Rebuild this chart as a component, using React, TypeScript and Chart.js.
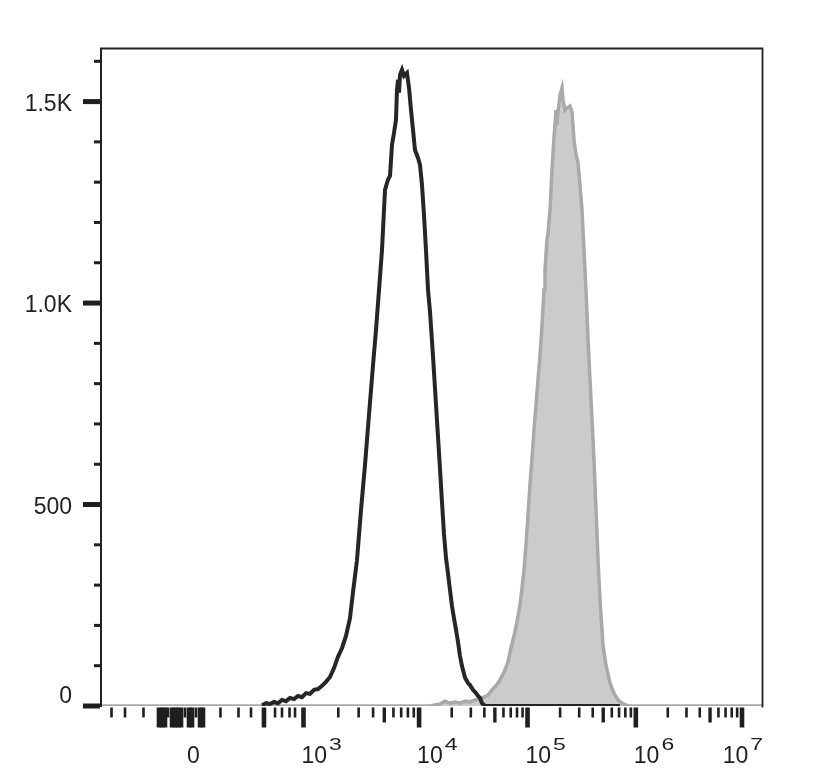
import React, { useEffect, useRef } from "react";
import { Chart, registerables } from "chart.js";

Chart.register(...registerables);

// ---- Data (x = display channel 0..1000 on the biexponential axis, y = cell count) ----
const blackChannels = [
  244.7, 250.8, 256.8, 262.8, 268.9, 274.9, 281.0, 287.0, 293.0, 299.1,
  305.1, 311.2, 317.2, 323.3, 329.3, 335.3, 341.4, 347.4, 353.5, 359.5,
  365.6, 371.6, 377.6, 382.2, 388.2, 394.3, 400.3, 406.3, 412.4, 416.9,
  421.5, 426.0, 429.0, 430.5, 435.0, 438.1, 441.1, 444.1, 447.1, 448.6,
  450.2, 451.7, 453.2, 456.2, 459.2, 463.7, 466.8, 469.8, 472.8, 475.8,
  480.4, 483.4, 486.4, 489.4, 492.4, 495.5, 498.5, 501.5, 504.5, 507.6,
  510.6, 513.6, 516.6, 519.6, 522.7, 525.7, 528.7, 531.7, 534.7, 537.8,
  540.8, 543.8, 546.8, 551.4, 555.9, 558.9, 563.4, 568.0, 571.0, 574.0,
  577.0, 580.1, 583.1, 785.5,
];
const blackCounts = [
  2, 7, 5, 10, 7, 15, 12, 20, 17, 25,
  22, 32, 30, 40, 42, 50, 60, 72, 94, 122,
  144, 174, 218, 283, 362, 487, 598, 722, 846, 933,
  1033, 1132, 1231, 1281, 1306, 1316, 1393, 1422, 1455, 1529,
  1554, 1522, 1566, 1579, 1564, 1571, 1534, 1479, 1430, 1380,
  1360, 1343, 1293, 1219, 1132, 1033, 978, 906, 829, 747,
  668, 588, 506, 427, 367, 328, 288, 248, 218, 189,
  159, 124, 99, 70, 57, 52, 40, 32, 25, 20,
  7, 2, 0, 0,
];

const greyChannels = [
  0, 498.5, 513.6, 521.1, 528.7, 536.3, 543.8, 551.4, 558.9, 566.5,
  574.0, 580.1, 586.1, 592.1, 598.2, 604.2, 610.3, 616.3, 620.8, 625.4,
  629.9, 634.5, 637.5, 640.5, 643.5, 646.5, 649.5, 652.6, 655.6, 658.6,
  661.6, 664.7, 667.7, 670.7, 672.2, 675.2, 676.7, 679.8, 682.8, 685.8,
  687.3, 688.8, 690.3, 691.8, 694.9, 697.9, 699.4, 702.4, 705.4, 709.9,
  713.0, 716.0, 719.0, 722.1, 725.1, 728.1, 731.1, 734.1, 737.2, 740.2,
  743.2, 746.2, 749.3, 752.3, 755.3, 759.8, 764.3, 770.4, 776.4, 782.5,
  788.5, 794.6, 800.6, 1000,
];
const greyCounts = [
  0, 0, 5, 12, 7, 10, 7, 12, 10, 15,
  17, 22, 27, 40, 50, 65, 84, 109, 144, 174,
  209, 251, 293, 338, 400, 474, 549, 616, 685, 747,
  809, 871, 946, 1033, 1082, 1157, 1172, 1231, 1331, 1412,
  1442, 1479, 1442, 1474, 1517, 1534, 1504, 1479, 1484, 1489,
  1474, 1405, 1368, 1348, 1293, 1231, 1132, 1033, 909, 809,
  710, 611, 487, 362, 263, 151, 102, 57, 32, 15,
  7, 2, 0, 0,
];

// ---- Axis definitions ----
const Y_MAX = 1633;
const yMajorTicks = [0, 500, 1000, 1500];
const yMajorLabels = ["0", "500", "1.0K", "1.5K"];
const yMinorTicks = [100, 200, 300, 400, 600, 700, 800, 900, 1100, 1200, 1300, 1400, 1600];

const decadeExponents = [3, 4, 5, 6, 7];
const decadeChannels = [307.4, 482.0, 645.8, 809.4, 969.8];
const zeroChannel = 131.4;
const lowTickChannels = [
  17.4, 37.8, 65.7, 89.1, 93.7, 98.2, 102.7, 108.8, 113.3, 117.8,
  122.4, 128.4, 134.4, 139.0, 145.0, 151.1, 155.6, 182.0, 209.2, 228.1,
  247.7, 264.4, 274.9, 286.3, 294.6,
];
const lowTickKinds = [
  "S", "S", "S", "L", "L", "L", "S", "L", "L", "L",
  "L", "S", "L", "L", "S", "L", "L", "S", "S", "S",
  "L", "S", "S", "S", "S",
];
const minorMultipliers = [2, 3, 4, 5, 6, 7, 8, 9];

const LABEL_FONT = '23px "Liberation Sans", Arial, sans-serif';
const INK = "#1f1f1f";

const axesPlugin = {
  id: "flowAxes",
  afterDatasetsDraw(chart: any) {
    const { ctx, chartArea: a, scales } = chart;
    const x = scales.x;
    const y = scales.y;
    ctx.save();
    ctx.fillStyle = INK;

    // Y ticks
    for (const v of yMinorTicks) {
      const py = y.getPixelForValue(v);
      ctx.fillRect(a.left - 6, py - 1.5, 6, 3);
    }
    for (const v of yMajorTicks) {
      const py = y.getPixelForValue(v);
      ctx.fillRect(a.left - 17, py - 2.5, 17, 5);
    }

    // X ticks
    const len: Record<string, number> = { S: 10, M: 15, L: 20 };
    const wid: Record<string, number> = { S: 2.6, M: 3.4, L: 4.6 };
    const top = a.bottom + 1.5;
    const drawTick = (ch: number, kind: string) => {
      const px = x.getPixelForValue(ch);
      ctx.fillRect(px - wid[kind] / 2, top, wid[kind], len[kind]);
    };
    lowTickChannels.forEach((c, i) => drawTick(c, lowTickKinds[i]));
    decadeChannels.forEach((c, i) => {
      drawTick(c, "L");
      if (i < decadeChannels.length - 1) {
        const span = decadeChannels[i + 1] - c;
        for (const m of minorMultipliers) {
          drawTick(c + Math.log10(m) * span, m === 5 ? "M" : "S");
        }
      }
    });

    // Frame
    ctx.strokeStyle = "#222222";
    ctx.lineWidth = 1.8;
    ctx.beginPath();
    ctx.moveTo(a.right + 0.5, a.bottom + 1.5);
    ctx.lineTo(a.right + 0.5, a.top + 0.5);
    ctx.lineTo(a.left, a.top + 0.5);
    ctx.stroke();
    ctx.lineWidth = 2;
    ctx.beginPath();
    ctx.moveTo(a.left + 1, a.top);
    ctx.lineTo(a.left + 1, a.bottom + 1);
    ctx.stroke();

    // Y labels
    ctx.font = LABEL_FONT;
    ctx.textAlign = "right";
    ctx.textBaseline = "alphabetic";
    yMajorTicks.forEach((v, i) => {
      const py = y.getPixelForValue(v);
      const base = v === 0 ? py - 3 : py + 9;
      ctx.fillText(yMajorLabels[i], a.left - 28, base);
    });

    // X labels
    const base = a.bottom + 57;
    ctx.textAlign = "left";
    ctx.font = LABEL_FONT;
    ctx.fillText("0", x.getPixelForValue(zeroChannel), base);
    decadeChannels.forEach((c, i) => {
      const px = x.getPixelForValue(c);
      const exp = String(decadeExponents[i]);
      ctx.font = LABEL_FONT;
      const w1 = ctx.measureText("10").width;
      const w2 = ctx.measureText(exp).width;
      const total = w1 + 2 + w2;
      let sx = px - 2;
      if (sx + total > a.right + 1) sx = a.right + 1 - total;
      ctx.fillText("10", sx, base);
      ctx.save();
      ctx.translate(sx + w1 + 2, base - 13);
      ctx.scale(1, 0.72);
      ctx.fillText(exp, 0, 0);
      ctx.restore();
    });

    ctx.restore();
  },
};

export default function App() {
  const canvasRef = useRef<HTMLCanvasElement | null>(null);

  useEffect(() => {
    document.body.style.margin = "0";
    const canvas = canvasRef.current;
    if (!canvas) return;

    const blackData = blackChannels.map((c, i) => ({ x: c, y: blackCounts[i] }));
    const greyData = greyChannels.map((c, i) => ({ x: c, y: greyCounts[i] }));

    const chart = new Chart(canvas, {
      type: "line",
      data: {
        datasets: [
          {
            label: "Unstained",
            data: blackData,
            borderColor: "#262626",
            borderWidth: 4,
            fill: false,
            pointRadius: 0,
            tension: 0,
            order: 0,
          },
          {
            label: "Stained",
            data: greyData,
            borderColor: "#a9a9a9",
            backgroundColor: "#cbcbcb",
            borderWidth: 3.5,
            fill: "origin",
            pointRadius: 0,
            tension: 0,
            order: 1,
          },
        ],
      },
      options: {
        responsive: false,
        animation: false,
        devicePixelRatio: 1,
        layout: { padding: { left: 100, right: 65, top: 48, bottom: 74 } },
        scales: {
          x: { type: "linear", min: 0, max: 1000, display: false },
          y: { type: "linear", min: 0, max: Y_MAX, display: false },
        },
        plugins: {
          legend: { display: false },
          tooltip: { enabled: false },
        },
      },
      plugins: [axesPlugin],
    });

    return () => chart.destroy();
  }, []);

  return (
    <div style={{ width: 827, height: 780, background: "#ffffff" }}>
      <canvas ref={canvasRef} width={827} height={780} style={{ display: "block" }} />
    </div>
  );
}
